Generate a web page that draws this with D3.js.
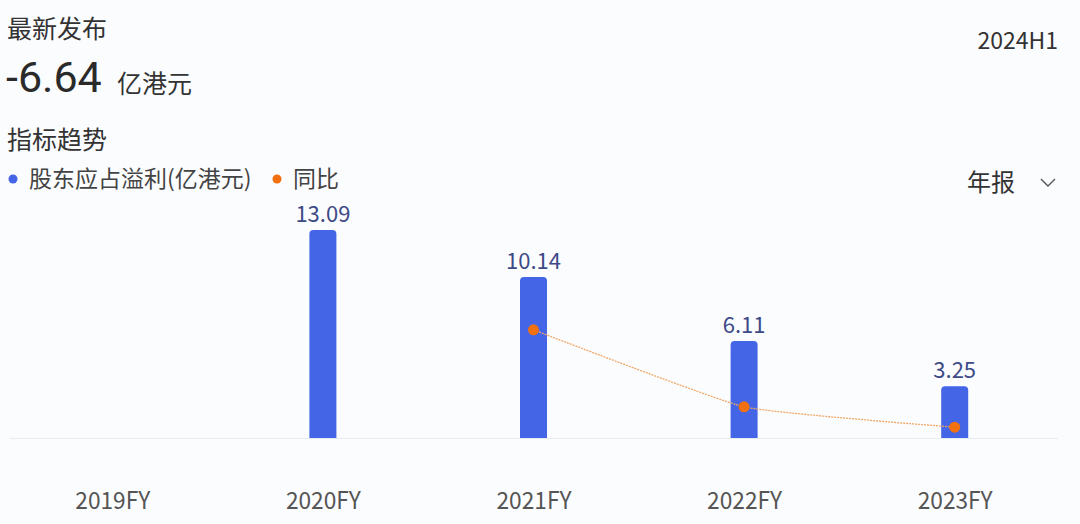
<!DOCTYPE html>
<html>
<head>
<meta charset="utf-8">
<script src="https://cdn.jsdelivr.net/npm/d3@7/dist/d3.min.js"></script>
<style>
  html, body { margin: 0; padding: 0; background: #fbfcfe; }
  svg { display: block; }
  text { font-family: "Noto Sans CJK SC", "Noto Sans", sans-serif; }
</style>
</head>
<body>
<svg class="chart" width="1080" height="524"></svg>
<script>
// data
var years = ['2019FY', '2020FY', '2021FY', '2022FY', '2023FY'];
var profit = [null, 13.09, 10.14, 6.11, 3.25];   // 股东应占溢利(亿港元)
var yoy = [null, null, -24.0, -42.5, -47.4];      // 同比 (%), estimated
var latestValue = '-6.64';
var latestPeriod = '2024H1';

var svg = d3.select('svg.chart'),
    width = +svg.attr('width'),
    height = +svg.attr('height');

var blue = '#4466e6',
    orange = '#f2700f';

// header
svg.append('text')
   .attr('x', 7).attr('y', 38)
   .attr('font-size', '25px')
   .attr('fill', '#333')
   .text('最新发布');

svg.append('text')
   .attr('x', 6).attr('y', 92)
   .attr('font-size', '43px')
   .style('font-family', 'Roboto, sans-serif')
   .attr('fill', '#2a2a2a')
   .text(latestValue);

svg.append('text')
   .attr('x', 117).attr('y', 93)
   .attr('font-size', '25px')
   .attr('fill', '#333')
   .text('亿港元');

svg.append('text')
   .attr('x', width - 22).attr('y', 49)
   .attr('text-anchor', 'end')
   .attr('font-size', '23px')
   .attr('fill', '#333')
   .text(latestPeriod);

svg.append('text')
   .attr('x', 7).attr('y', 149)
   .attr('font-size', '25px')
   .attr('fill', '#333')
   .text('指标趋势');

// legend
var legend = [
  { label: '股东应占溢利(亿港元)', color: blue, x: 13 },
  { label: '同比', color: orange, x: 277 }
];
var lg = svg.append('g').selectAll('g')
  .data(legend).enter().append('g')
  .attr('transform', function(d) { return 'translate(' + d.x + ',179)'; });
lg.append('circle').attr('r', 4.5).attr('fill', function(d) { return d.color; });
lg.append('text')
  .attr('x', 16).attr('y', 8)
  .attr('font-size', '23px')
  .attr('fill', '#444')
  .text(function(d) { return d.label; });

// period selector
svg.append('text')
   .attr('x', 967).attr('y', 191)
   .attr('font-size', '24px')
   .attr('fill', '#333')
   .text('年报');
svg.append('path')
   .attr('d', 'M1041,179 L1048,186 L1055,179')
   .attr('fill', 'none')
   .attr('stroke', '#555')
   .attr('stroke-width', 1.4);

// scales
var baseY = 438;
var xScale = d3.scaleBand().domain(years).range([7, 1060]).padding(0);
var yScale = d3.scaleLinear().domain([0, 13.09]).range([baseY, 230]);
var yoyScale = d3.scaleLinear().domain([-50, 0]).range([baseY, 230]);
var barW = 27;

var rows = years.map(function(y, i) {
  return { key: y, value: profit[i], yoy: yoy[i] };
});

// baseline
svg.append('line')
   .attr('x1', 10).attr('x2', 1058)
   .attr('y1', baseY + 0.5).attr('y2', baseY + 0.5)
   .attr('stroke', '#e8ebf0');

// bars with rounded top
function barPath(d) {
  var x0 = xScale(d.key) + xScale.bandwidth() / 2 - barW / 2,
      x1 = x0 + barW,
      y0 = yScale(d.value),
      r = 4;
  return 'M' + x0 + ',' + baseY +
         'L' + x0 + ',' + (y0 + r) +
         'Q' + x0 + ',' + y0 + ' ' + (x0 + r) + ',' + y0 +
         'L' + (x1 - r) + ',' + y0 +
         'Q' + x1 + ',' + y0 + ' ' + x1 + ',' + (y0 + r) +
         'L' + x1 + ',' + baseY + 'Z';
}

var bars = rows.filter(function(d) { return d.value != null; });

svg.append('g').selectAll('path')
   .data(bars).enter().append('path')
   .attr('d', barPath)
   .attr('fill', blue);

svg.append('g').selectAll('text')
   .data(bars).enter().append('text')
   .attr('x', function(d) { return xScale(d.key) + xScale.bandwidth() / 2; })
   .attr('y', function(d) { return yScale(d.value) - 8; })
   .attr('text-anchor', 'middle')
   .attr('font-size', '22px')
   .attr('fill', '#3d4a86')
   .text(function(d) { return d.value.toFixed(2); });

// yoy line
var pts = rows.filter(function(d) { return d.yoy != null; });
var line = d3.line()
  .x(function(d) { return xScale(d.key) + xScale.bandwidth() / 2; })
  .y(function(d) { return yoyScale(d.yoy); })
  .curve(d3.curveCardinal.tension(0.6));

svg.append('path')
   .datum(pts)
   .attr('d', line)
   .attr('fill', 'none')
   .attr('stroke', '#f0a868')
   .attr('stroke-width', 1.3)
   .attr('stroke-dasharray', '2,1');

svg.append('g').selectAll('circle')
   .data(pts).enter().append('circle')
   .attr('cx', function(d) { return xScale(d.key) + xScale.bandwidth() / 2; })
   .attr('cy', function(d) { return yoyScale(d.yoy); })
   .attr('r', 5.5)
   .attr('fill', orange);

// x axis labels
svg.append('g').selectAll('text')
   .data(years).enter().append('text')
   .attr('x', function(d) { return xScale(d) + xScale.bandwidth() / 2 - 37; })
   .attr('y', 509)
   .attr('font-size', '24px')
   .attr('fill', '#555')
   .attr('textLength', 75)
   .attr('lengthAdjust', 'spacingAndGlyphs')
   .text(function(d) { return d; });
</script>
</body>
</html>
